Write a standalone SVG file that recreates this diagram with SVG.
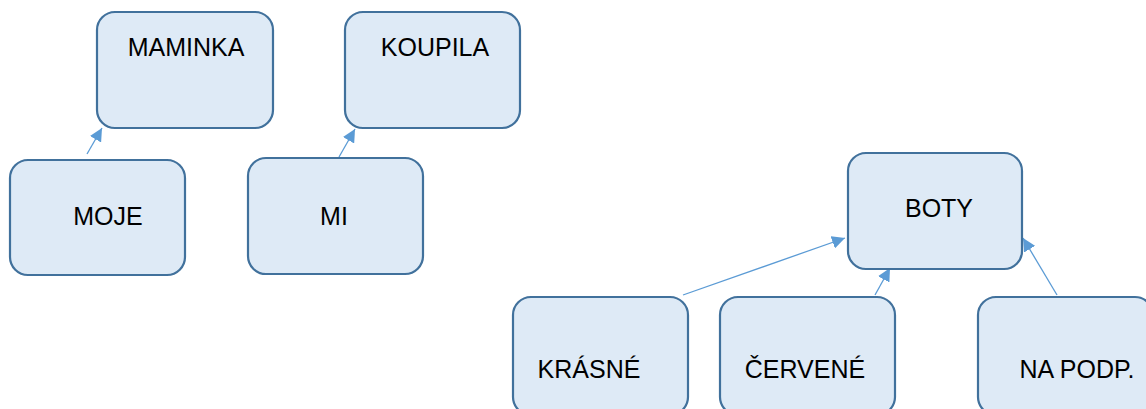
<svg xmlns="http://www.w3.org/2000/svg" width="1146" height="409" viewBox="0 0 1146 409">
<style>
.box{fill:#DEEAF6;stroke:#41719C;stroke-width:2.2}
.lbl{font-family:"Liberation Sans",Arial,sans-serif;font-size:25px;fill:#000;text-anchor:middle}
.conn{stroke:#5B9BD5;stroke-width:1.3;fill:none;marker-end:url(#ah)}
</style>
<defs>
<marker id="ah" markerUnits="userSpaceOnUse" markerWidth="14" markerHeight="13" refX="13" refY="6.5" orient="auto">
<path d="M0,0 L13,6.5 L0,13 z" fill="#5B9BD5"/>
</marker>
</defs>
<g id="connectors">
<line class="conn" x1="87" y1="154" x2="102" y2="128"/>
<line class="conn" x1="339" y1="157" x2="355" y2="129"/>
<line class="conn" x1="683" y1="295" x2="845" y2="238"/>
<line class="conn" x1="875" y1="295" x2="890" y2="268"/>
<line class="conn" x1="1057" y1="295" x2="1023" y2="238"/>
</g>
<g id="maminka"><rect class="box" x="97" y="12" width="176" height="116" rx="18"/><text class="lbl" x="186" y="56">MAMINKA</text></g>
<g id="koupila"><rect class="box" x="345" y="12" width="175" height="116" rx="18"/><text class="lbl" x="435" y="56">KOUPILA</text></g>
<g id="moje"><rect class="box" x="10" y="160" width="175" height="115" rx="18"/><text class="lbl" x="108" y="225">MOJE</text></g>
<g id="mi"><rect class="box" x="248" y="158" width="175" height="116" rx="18"/><text class="lbl" x="334" y="225">MI</text></g>
<g id="boty"><rect class="box" x="848" y="153" width="174" height="116" rx="18"/><text class="lbl" x="939" y="217">BOTY</text></g>
<g id="krasne"><rect class="box" x="513" y="297" width="175" height="118" rx="18"/><text class="lbl" x="589" y="378">KRÁSNÉ</text></g>
<g id="cervene"><rect class="box" x="720" y="297" width="175" height="118" rx="18"/><text class="lbl" x="805" y="378">ČERVENÉ</text></g>
<g id="napodp"><rect class="box" x="978" y="297" width="175" height="118" rx="18"/><text class="lbl" x="1077" y="378">NA PODP.</text></g>
</svg>
